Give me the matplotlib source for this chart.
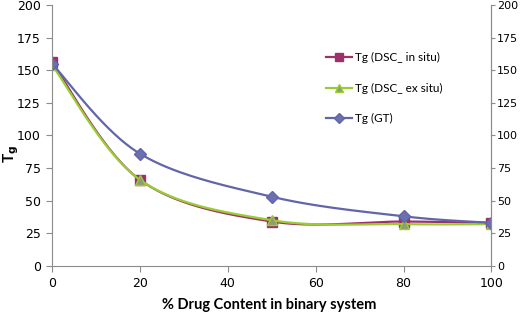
import matplotlib
matplotlib.use("Agg")
import matplotlib.pyplot as plt
import numpy as np

plt.rcParams['font.family'] = ['Lato', 'DejaVu Sans']

drug = [0, 20, 50, 80, 100]
tg_insitu = [156, 66, 34, 34, 33]
tg_exsitu = [154, 66, 35, 32, 32]
tg_gt = [155, 86, 53, 38, 33]

labels = ['Tg (DSC_ in situ)', 'Tg (DSC_ ex situ)', 'Tg (GT)']
colors = ['#9a3468', '#9acd32', '#6266a8']
markers = ['s', '^', 'D']
mfc = ['#a0306a', '#8f9a7a', '#6c6fb0']


def smooth(x, y, n=40):
    # excel-like smoothed line (bezier through the points)
    p = np.column_stack([x, y]).astype(float)
    pts = []
    for i in range(len(p) - 1):
        p0 = p[i - 1] if i > 0 else p[i]
        p3 = p[i + 2] if i + 2 < len(p) else p[i + 1]
        c1 = p[i] + (p[i + 1] - p0) / 6
        c2 = p[i + 1] - (p3 - p[i]) / 6
        t = np.linspace(0, 1, n)[:, None]
        seg = ((1 - t) ** 3 * p[i] + 3 * (1 - t) ** 2 * t * c1
               + 3 * (1 - t) * t ** 2 * c2 + t ** 3 * p[i + 1])
        pts.append(seg)
    pts = np.vstack(pts)
    return pts[:, 0], pts[:, 1]


fig = plt.figure(figsize=(5.2, 3.15), dpi=100)
ax = fig.add_axes([0.1, 0.156, 0.845, 0.828])

for ys, c, m, fc, lab in zip([tg_insitu, tg_exsitu, tg_gt], colors, markers, mfc, labels):
    sx, sy = smooth(drug, ys)
    ax.plot(sx, sy, color=c, lw=1.6)
    ms = 7 if m != 'D' else 6
    ax.plot(drug, ys, ls='none', marker=m, ms=ms, color=fc, mec=c, mew=1)
    ax.plot([], [], color=c, lw=1.6, marker=m, ms=ms - 1, mfc=fc, mec=c, label=lab)

ax.set_xlim(0, 100)
ax.set_ylim(0, 200)
ax.set_xticks([0, 20, 40, 60, 80, 100])
ax.set_yticks(range(0, 201, 25))
ax.spines['top'].set_visible(False)
for s in ['left', 'bottom', 'right']:
    ax.spines[s].set_color('#8c8c8c')
ax.tick_params(colors='#8c8c8c', labelcolor='black', labelsize=9, length=4,
               direction='out', pad=4)
for lb in ax.get_xticklabels() + ax.get_yticklabels():
    lb.set_family('DejaVu Sans')

ax2 = ax.twinx()
ax2.set_ylim(0, 200)
ax2.set_yticks(range(0, 201, 25))
for s in ['top', 'left', 'bottom']:
    ax2.spines[s].set_visible(False)
ax2.spines['right'].set_color('#8c8c8c')
ax2.tick_params(colors='#8c8c8c', labelcolor='black', labelsize=8, length=3,
                direction='out', pad=1)
for lb in ax2.get_yticklabels():
    lb.set_family('DejaVu Sans')

ax.set_xlabel('% Drug Content in binary system', fontsize=10.5, fontweight='bold')
ax.xaxis.set_label_coords(0.495, -0.125)
ax.set_ylabel('T$_\\mathbf{g}$', fontsize=11, fontweight='bold')
ax.yaxis.set_label_coords(-0.07, 0.43)

leg = ax.legend(loc='upper left', bbox_to_anchor=(0.6, 0.86), frameon=False,
                fontsize=8.5, labelspacing=1.65, handlelength=2.2, handletextpad=0.2)

fig.savefig('out.png', dpi=100)
